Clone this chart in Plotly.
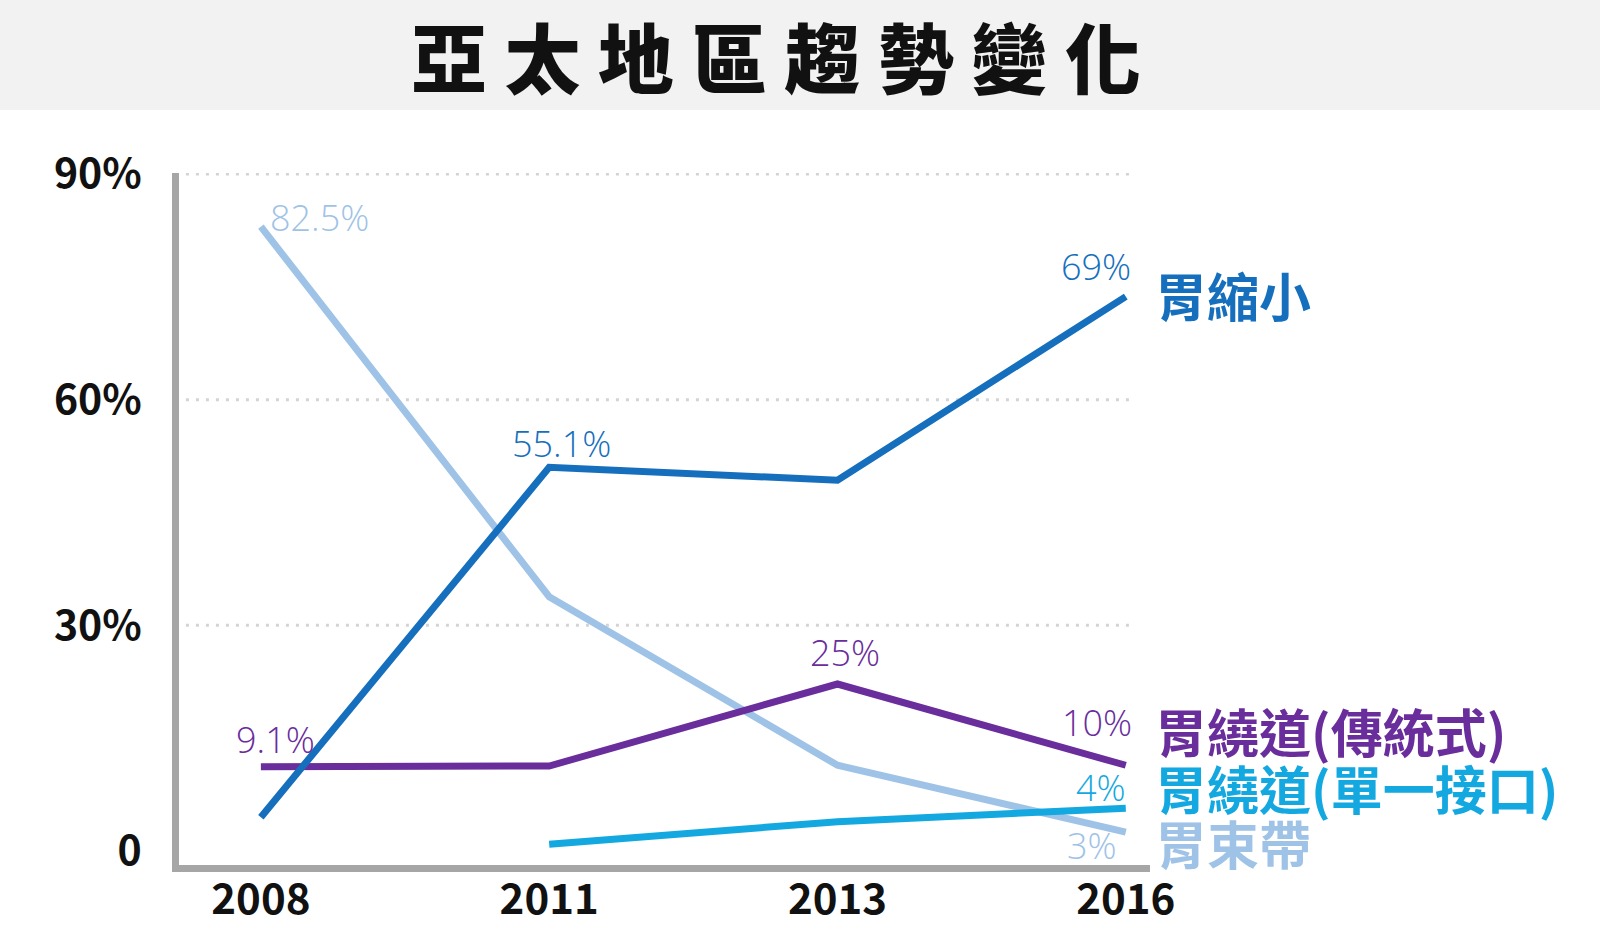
import plotly.graph_objects as go

# data
years = ["2008", "2011", "2013", "2016"]
x_idx = [0, 1, 2, 3]

sleeve = [4.5, 51.0, 49.3, 73.7]          # 胃縮小
bypass = [11.2, 11.3, 22.2, 11.4]         # 胃繞道(傳統式)
mini_bypass = [None, 0.9, 3.9, 5.7]       # 胃繞道(單一接口)
band = [83.0, 33.8, 11.4, 2.5]            # 胃束帶

sleeve_labels = [None, "55.1%", None, "69%"]
bypass_labels = ["9.1%", None, "25%", "10%"]
mini_labels = [None, None, None, "4%"]
band_labels = ["82.5%", None, None, "3%"]

y_ticks = [0, 30, 60, 90]
y_tick_text = ["0", "30%", "60%", "90%"]
grid_vals = [30, 60, 90]

title = "亞 太 地 區 趨 勢 變 化"

# pixel frame of the plot area
W, H = 1600, 950
L, R, T, B = 179, 1150, 173, 865


def xp(px):
    return (px - L) / (R - L)


def yp(py):
    return (B - py) / (B - T)


CJK = "Noto Sans CJK TC, Noto Sans CJK SC, sans-serif"
THIN = "Open Sans, Noto Sans, Noto Sans CJK TC, sans-serif"
C_SLEEVE = "#166fbd"
C_BYPASS = "#6a2d9c"
C_MINI = "#14a8e1"
C_BAND = "#9fc3e6"

# series: values, labels, colour, name, label offsets (anchor, xshift, yshift), name yshift
series = [
    (band, band_labels, C_BAND, "胃束帶",
     [("left", 7, 9), None, None, ("right", -7, -13)], -10),
    (bypass, bypass_labels, C_BYPASS, "胃繞道(傳統式)",
     [("center", 15, 27), None, ("center", 8, 32), ("right", 8, 43)], 35),
    (mini_bypass, mini_labels, C_MINI, "胃繞道(單一接口)",
     [None, None, None, ("right", 2, 21)], 21),
    (sleeve, sleeve_labels, C_SLEEVE, "胃縮小",
     [None, ("center", 12, 24), None, ("right", 7, 30)], 2),
]

fig = go.Figure()
annotations = []

for vals, labels, color, name, offs, name_shift in series:
    fig.add_trace(go.Scatter(
        x=x_idx, y=vals, mode="lines", name=name,
        line=dict(color=color, width=7),
        connectgaps=False, hoverinfo="skip",
    ))
    for i, lab in enumerate(labels):
        if lab is None:
            continue
        anchor, dx, dy = offs[i]
        annotations.append(dict(
            x=x_idx[i], y=vals[i], xref="x", yref="y", text=lab,
            showarrow=False, xanchor=anchor, yanchor="middle",
            xshift=dx, yshift=dy,
            font=dict(family=THIN, size=36, color=color, weight=300),
        ))
    annotations.append(dict(
        x=x_idx[-1], y=vals[-1], xref="x", yref="y", text=name,
        showarrow=False, xanchor="left", yanchor="middle",
        xshift=27, yshift=name_shift,
        font=dict(family=CJK, size=52, color=color, weight="bold"),
    ))

annotations.append(dict(
    x=xp(776), y=yp(55), xref="paper", yref="paper", text=title,
    showarrow=False, xanchor="center", yanchor="middle",
    font=dict(family=CJK, size=76, color="#111111", weight=900),
))

shapes = [dict(
    type="rect", xref="paper", yref="paper",
    x0=xp(0), x1=xp(W), y0=yp(110), y1=yp(0),
    fillcolor="#f2f2f2", line=dict(width=0), layer="below",
)]
for g in grid_vals:
    shapes.append(dict(
        type="line", xref="x", yref="y", x0=-0.26, x1=3.02, y0=g, y1=g,
        line=dict(color="#d4d4d4", width=3, dash="3px,7px"), layer="below",
    ))

fig.update_layout(
    width=W, height=H,
    margin=dict(l=L, r=W - R, t=T, b=H - B, pad=0),
    paper_bgcolor="white", plot_bgcolor="white",
    showlegend=False,
    annotations=annotations,
    shapes=shapes,
    xaxis=dict(
        range=[-0.284, 3.084], tickvals=x_idx, ticktext=years,
        showgrid=False, zeroline=False, showline=True,
        linecolor="#a6a6a6", linewidth=7, ticks="",
        ticklabelstandoff=-8,
        tickfont=dict(family=CJK, size=42, color="#111111", weight="bold"),
    ),
    yaxis=dict(
        range=[-1.86, 90.13], tickvals=y_ticks, ticktext=y_tick_text,
        showgrid=False, zeroline=False, showline=True,
        linecolor="#a6a6a6", linewidth=7, ticks="",
        ticklabelstandoff=22,
        tickfont=dict(family=CJK, size=41, color="#111111", weight="bold"),
    ),
)

fig.write_html("out.html", config={"displayModeBar": False},
               post_script="document.body.style.margin='0';")
